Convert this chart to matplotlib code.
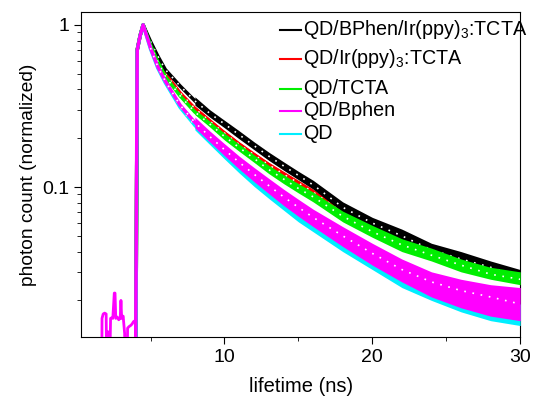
import matplotlib
matplotlib.use("Agg")
import matplotlib.pyplot as plt
from matplotlib.lines import Line2D
from matplotlib.ticker import FixedLocator, NullFormatter, LogLocator

plt.rcParams['font.family'] = ['Liberation Sans', 'DejaVu Sans']
plt.rcParams['mathtext.fontset'] = 'custom'
plt.rcParams['mathtext.rm'] = 'Liberation Sans'
plt.rcParams['mathtext.it'] = 'Liberation Sans'

labels = ["QD/BPhen/Ir(ppy)$_3$:TCTA", "QD/Ir(ppy)$_3$:TCTA", "QD/TCTA", "QD/Bphen", "QD"]
colors = ["#000000", "#ff0000", "#00ee00", "#ff00ff", "#00eeff"]

# shared time grid (ns) for the decay part
t = [4.0, 4.1, 4.3, 4.5, 5, 5.5, 6, 7, 8, 9, 10, 11, 12, 13, 14, 15, 16, 18, 20, 22, 24, 26, 28, 30]

black = [0.005, 0.70, 0.86, 1.0, 0.79, 0.64, 0.53, 0.42, 0.34, 0.285, 0.245, 0.21, 0.18, 0.155, 0.135, 0.118, 0.103, 0.075, 0.060, 0.050, 0.041, 0.036, 0.032, 0.028]
red   = [0.005, 0.70, 0.86, 1.0, 0.76, 0.60, 0.50, 0.38, 0.305, 0.255, 0.215, 0.183, 0.158, 0.137, 0.120, 0.106, 0.093, 0.070, 0.056, 0.046, 0.039, 0.034, 0.030, 0.027]
green = [0.005, 0.70, 0.86, 1.0, 0.75, 0.59, 0.48, 0.365, 0.29, 0.245, 0.205, 0.175, 0.150, 0.128, 0.112, 0.098, 0.087, 0.066, 0.053, 0.044, 0.038, 0.033, 0.029, 0.027]
magenta = [0.012, 0.70, 0.86, 1.0, 0.72, 0.55, 0.45, 0.32, 0.25, 0.205, 0.170, 0.142, 0.120, 0.102, 0.087, 0.075, 0.065, 0.050, 0.039, 0.031, 0.026, 0.023, 0.021, 0.019]
cyan  = [0.005, 0.70, 0.86, 1.0, 0.71, 0.54, 0.44, 0.31, 0.24, 0.195, 0.160, 0.134, 0.113, 0.096, 0.082, 0.070, 0.061, 0.047, 0.037, 0.030, 0.025, 0.022, 0.020, 0.018]

# noise envelopes (upper / lower edge of each noisy trace) on the tail grid
t_tail = [8, 9, 10, 11, 12, 13, 14, 15, 16, 18, 20, 22, 24, 26, 28, 30]
black_hi = [0.36, 0.30, 0.258, 0.222, 0.19, 0.164, 0.143, 0.125, 0.110, 0.081, 0.065, 0.055, 0.045, 0.040, 0.035, 0.031]
black_lo = [0.32, 0.27, 0.232, 0.198, 0.17, 0.146, 0.127, 0.111, 0.097, 0.070, 0.056, 0.046, 0.038, 0.033, 0.029, 0.026]
red_hi = [0.315, 0.265, 0.223, 0.19, 0.164, 0.142, 0.125, 0.11, 0.097, 0.073, 0.059, 0.048, 0.041, 0.036, 0.032, 0.028]
red_lo = [0.295, 0.245, 0.207, 0.176, 0.152, 0.132, 0.115, 0.102, 0.089, 0.067, 0.053, 0.044, 0.037, 0.032, 0.028, 0.026]
green_hi = [0.30, 0.255, 0.215, 0.184, 0.158, 0.136, 0.119, 0.105, 0.093, 0.071, 0.058, 0.048, 0.042, 0.036, 0.032, 0.030]
green_lo = [0.28, 0.235, 0.195, 0.166, 0.142, 0.121, 0.105, 0.092, 0.081, 0.061, 0.049, 0.040, 0.035, 0.030, 0.027, 0.025]
magenta_hi = [0.27, 0.222, 0.185, 0.155, 0.132, 0.113, 0.097, 0.084, 0.073, 0.057, 0.045, 0.036, 0.030, 0.027, 0.025, 0.024]
magenta_lo = [0.232, 0.19, 0.156, 0.129, 0.108, 0.091, 0.077, 0.066, 0.057, 0.043, 0.033, 0.026, 0.021, 0.018, 0.016, 0.015]
cyan_hi = [0.25, 0.205, 0.170, 0.142, 0.120, 0.102, 0.087, 0.075, 0.065, 0.050, 0.039, 0.031, 0.026, 0.023, 0.021, 0.019]
cyan_lo = [0.225, 0.183, 0.149, 0.122, 0.101, 0.085, 0.072, 0.061, 0.053, 0.040, 0.031, 0.024, 0.020, 0.017, 0.015, 0.014]

# pre-rise noise of the QD/Bphen trace
t_pre = [1.6, 1.70, 1.72, 1.80, 1.90, 2.00, 2.05, 2.10, 2.15, 2.20, 2.30, 2.35, 2.45, 2.55, 2.60, 2.65, 2.75, 2.85, 2.95, 3.00, 3.05, 3.15, 3.25, 3.30, 3.40, 3.45, 3.55, 3.65, 3.75, 3.85, 3.95]
m_pre = [0.005, 0.005, 0.0155, 0.0165, 0.0167, 0.0165, 0.005, 0.0128, 0.0128, 0.005, 0.0155, 0.0156, 0.0155, 0.0222, 0.0222, 0.0155, 0.0158, 0.0152, 0.0155, 0.0200, 0.0155, 0.0160, 0.0125, 0.005, 0.005, 0.0135, 0.0138, 0.0140, 0.0143, 0.0148, 0.0150]

series = [black, red, green, magenta, cyan]
his = [black_hi, red_hi, green_hi, magenta_hi, cyan_hi]
los = [black_lo, red_lo, green_lo, magenta_lo, cyan_lo]
zorders = [3, 2, 4, 6, 5]

W, H = 533, 400
fig = plt.figure(figsize=(W / 100, H / 100), dpi=100)
ax = fig.add_axes([0.152, 0.1575, 0.824, 0.8125])

for y, hi, lo, c, lab, z in zip(series, his, los, colors, labels, zorders):
    ax.plot(t, y, color=c, lw=2.5, label=lab, zorder=z)
    ax.fill_between(t_tail, lo, hi, color=c, lw=0, zorder=z)
    ax.plot(t[4:], y[4:], color='white', lw=1.2, ls=(0, (1, 4)), zorder=z + 0.5)
ax.plot(t_pre, m_pre, color=colors[3], lw=2.0, zorder=6)

ax.set_yscale('log')
ax.set_xlim(0.3, 30)
ax.set_ylim(0.0119, 1.2)
ax.set_xticks([10, 20, 30])
ax.xaxis.set_minor_locator(FixedLocator([5, 15, 25]))
ax.set_yticks([0.1, 1])
ax.set_yticklabels(['0.1', '1'])
ax.yaxis.set_minor_locator(LogLocator(base=10, subs=range(2, 10)))
ax.yaxis.set_minor_formatter(NullFormatter())
ax.tick_params(axis='both', which='major', direction='out', length=5, labelsize=14, top=False, right=False)
ax.tick_params(axis='both', which='minor', direction='out', length=3, top=False, right=False)

ax.set_xlabel('lifetime (ns)', fontsize=14.5, labelpad=8)
ax.set_ylabel('photon count (normalized)', fontsize=13.8, labelpad=4)

# legend drawn entry by entry (baseline pixel rows of the reference legend)
leg_baselines = [35, 64, 94, 116, 139]
for lab, c, b in zip(labels, colors, leg_baselines):
    yb = 1 - b / H
    yl = 1 - (b - 5) / H
    fig.add_artist(Line2D([280 / W, 301 / W], [yl, yl], color=c, lw=1.5, transform=fig.transFigure))
    fig.text(303 / W, yb, lab, fontsize=14.2, va='baseline', ha='left')

fig.savefig('out.png', dpi=100)
